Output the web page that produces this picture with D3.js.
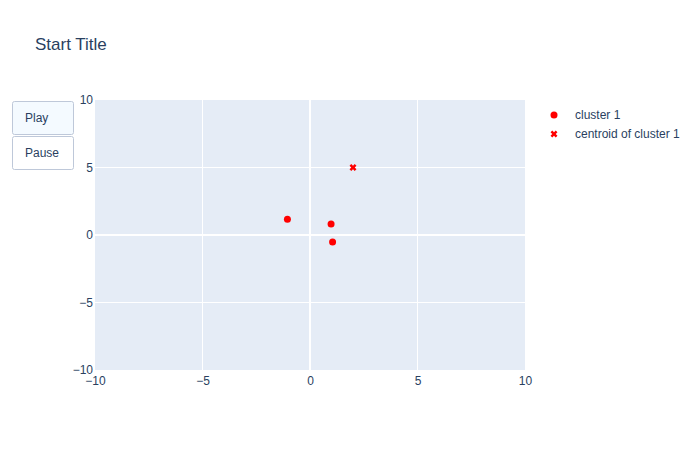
<!DOCTYPE html>
<html>
<head>
<meta charset="utf-8">
<script src="https://cdn.jsdelivr.net/npm/d3@7"></script>
<style>
  body { margin: 0; background: #fff; }
  svg { font-family: "Liberation Sans", Arial, sans-serif; }
</style>
</head>
<body>
<svg id="chart" width="700" height="450"></svg>
<script>
// cluster points and centroid
var clusterX = [-1.05, 0.98, 1.05];
var clusterY = [1.16, 0.82, -0.52];
var centroidX = [2];
var centroidY = [5];
var ticks = [-10, -5, 0, 5, 10];
var legendNames = ["cluster 1", "centroid of cluster 1"];
var buttons = ["Play", "Pause"];

var svg = d3.select("#chart");
var textColor = "#2a3f5f";
var font = "\"Liberation Sans\", Arial, sans-serif";

var x = d3.scaleLinear().domain([-10, 10]).range([95, 525]);
var y = d3.scaleLinear().domain([-10, 10]).range([370, 100]);

// background
svg.append("rect")
    .attr("x", 95).attr("y", 100)
    .attr("width", 430).attr("height", 270)
    .attr("fill", "#E5ECF6");

// grid
svg.append("g").selectAll("line")
    .data(ticks.filter(d => d !== 0 && Math.abs(d) !== 10))
    .join("line")
    .attr("x1", d => x(d)).attr("x2", d => x(d))
    .attr("y1", 100).attr("y2", 370)
    .attr("stroke", "#fff").attr("stroke-width", 1);
svg.append("g").selectAll("line")
    .data(ticks.filter(d => d !== 0 && Math.abs(d) !== 10))
    .join("line")
    .attr("y1", d => y(d)).attr("y2", d => y(d))
    .attr("x1", 95).attr("x2", 525)
    .attr("stroke", "#fff").attr("stroke-width", 1);

// zero lines
svg.append("line")
    .attr("x1", x(0)).attr("x2", x(0)).attr("y1", 100).attr("y2", 370)
    .attr("stroke", "#fff").attr("stroke-width", 2);
svg.append("line")
    .attr("y1", y(0)).attr("y2", y(0)).attr("x1", 95).attr("x2", 525)
    .attr("stroke", "#fff").attr("stroke-width", 2);

// axes
var xAxis = svg.append("g")
    .attr("transform", "translate(0,370)")
    .call(d3.axisBottom(x).tickValues(ticks).tickSize(0).tickPadding(6).tickFormat(d => d < 0 ? "\u2212" + (-d) : d));
var yAxis = svg.append("g")
    .attr("transform", "translate(95,0)")
    .call(d3.axisLeft(y).tickValues(ticks).tickSize(0).tickPadding(2).tickFormat(d => d < 0 ? "\u2212" + (-d) : d));
[xAxis, yAxis].forEach(a => {
    a.select(".domain").remove();
    a.selectAll("text")
        .attr("fill", textColor)
        .style("font-size", "12px")
        .style("font-family", font);
});

// markers
svg.append("g").selectAll("circle")
    .data(clusterX.map((d, i) => [d, clusterY[i]]))
    .join("circle")
    .attr("cx", d => x(d[0])).attr("cy", d => y(d[1]))
    .attr("r", 3.5).attr("fill", "red");

// filled x like plotly's "x" symbol
var cross = d3.symbol().type(d3.symbolCross).size(30);
svg.append("g").selectAll("path")
    .data(centroidX.map((d, i) => [d, centroidY[i]]))
    .join("path")
    .attr("transform", d => "translate(" + x(d[0]) + "," + y(d[1]) + ") rotate(45)")
    .attr("d", cross)
    .attr("fill", "red");

// title
svg.append("text")
    .attr("x", 35).attr("y", 50)
    .attr("fill", textColor)
    .style("font-size", "17px")
    .text("Start Title");

// legend
var legend = svg.append("g");
legendNames.forEach(function (name, i) {
    var ly = 115 + i * 19;
    if (i === 0) {
        legend.append("circle").attr("cx", 554).attr("cy", ly).attr("r", 3.5).attr("fill", "red");
    } else {
        legend.append("path").attr("transform", "translate(554," + ly + ") rotate(45)")
            .attr("d", cross).attr("fill", "red");
    }
    legend.append("text")
        .attr("x", 575).attr("y", ly + 4)
        .attr("fill", textColor)
        .style("font-size", "12px")
        .text(name);
});

// buttons
buttons.forEach(function (b, i) {
    var by = 101.5 + i * 35;
    svg.append("rect")
        .attr("x", 12.5).attr("y", by)
        .attr("width", 61).attr("height", 33)
        .attr("rx", 2).attr("ry", 2)
        .attr("fill", i === 0 ? "#F4FAFF" : "#fff")
        .attr("stroke", "#BEC8D9").attr("stroke-width", 1);
    svg.append("text")
        .attr("x", 25).attr("y", by + 20)
        .attr("fill", textColor)
        .style("font-size", "12px")
        .text(b);
});
</script>
</body>
</html>
